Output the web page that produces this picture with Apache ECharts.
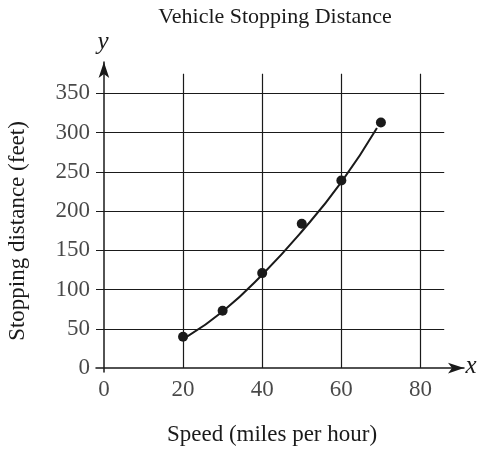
<!DOCTYPE html><html><head><meta charset="utf-8"><script src="https://cdn.jsdelivr.net/npm/echarts@6/dist/echarts.min.js"></script>
<style>html,body{margin:0;padding:0;background:#fff}#c{width:480px;height:451px}</style></head><body><div id="c"></div><script>
const xTicks=[0,20,40,60,80];
const yTicks=[0,50,100,150,200,250,300,350];
const speeds=[20,30,40,50,60,70];
const distances=[40,73,121,184,239,313];
const curveX=[21,30,40,50,60,69];
const curveY=[40,72,119,174,237,306];
const F='Liberation Serif';
const C='#1a1a1a';
const hLines=yTicks.filter(v=>v>0).map(v=>[{coord:[-2,v]},{coord:[86,v]}]);
const vLines=xTicks.filter(v=>v>0).map(v=>[{coord:[v,0]},{coord:[v,375]}]);
const chart=echarts.init(document.getElementById('c'));
chart.setOption({
 animation:false,
 title:{text:'Vehicle Stopping Distance',left:270,top:1,textAlign:'center',textStyle:{fontFamily:F,fontWeight:'normal',fontSize:22,color:C}},
 grid:{left:96,right:16,top:62,bottom:79},
 xAxis:{type:'value',min:-2,max:91,splitLine:{show:false},axisTick:{show:false},axisLabel:{show:false},
   axisLine:{onZero:true,lineStyle:{color:C,width:1.5},symbol:['none','arrow'],symbolSize:[8,16]}},
 yAxis:{type:'value',min:-5,max:390,splitLine:{show:false},axisTick:{show:false},axisLabel:{show:false},
   axisLine:{onZero:true,lineStyle:{color:C,width:1.5},symbol:['none','arrow'],symbolSize:[8,16]}},
 series:[
  {type:'line',data:[],markLine:{silent:true,symbol:'none',label:{show:false},lineStyle:{color:C,width:1.2,type:'solid'},data:hLines.concat(vLines)}},
  {type:'line',smooth:true,showSymbol:false,data:curveX.map((x,i)=>[x,curveY[i]]),lineStyle:{color:C,width:2}},
  {type:'scatter',data:speeds.map((x,i)=>[x,distances[i]]),symbolSize:10,itemStyle:{color:C,opacity:1}},
  {type:'scatter',symbolSize:0,data:xTicks.map(v=>[v,0]),label:{show:true,position:'bottom',distance:10,formatter:p=>p.value[0],fontFamily:F,fontSize:23,color:C}},
  {type:'scatter',symbolSize:0,data:yTicks.map(v=>[0,v]),label:{show:true,position:'left',distance:14,formatter:p=>p.value[1],fontFamily:F,fontSize:23,color:C}}
 ],
 graphic:[
  {type:'text',style:{text:'Speed (miles per hour)',x:272,y:435,align:'center',verticalAlign:'middle',font:'23px "Liberation Serif"',fill:C}},
  {type:'text',style:{text:'Stopping distance (feet)',x:0,y:0,align:'center',verticalAlign:'middle',font:'23px "Liberation Serif"',fill:C},x:18,y:231,rotation:Math.PI/2},
  {type:'text',style:{text:'x',x:471,y:366,align:'center',verticalAlign:'middle',font:'italic 25px "Liberation Serif"',fill:C}},
  {type:'text',style:{text:'y',x:103,y:42,align:'center',verticalAlign:'middle',font:'italic 25px "Liberation Serif"',fill:C}}
 ]
});
</script></body></html>
